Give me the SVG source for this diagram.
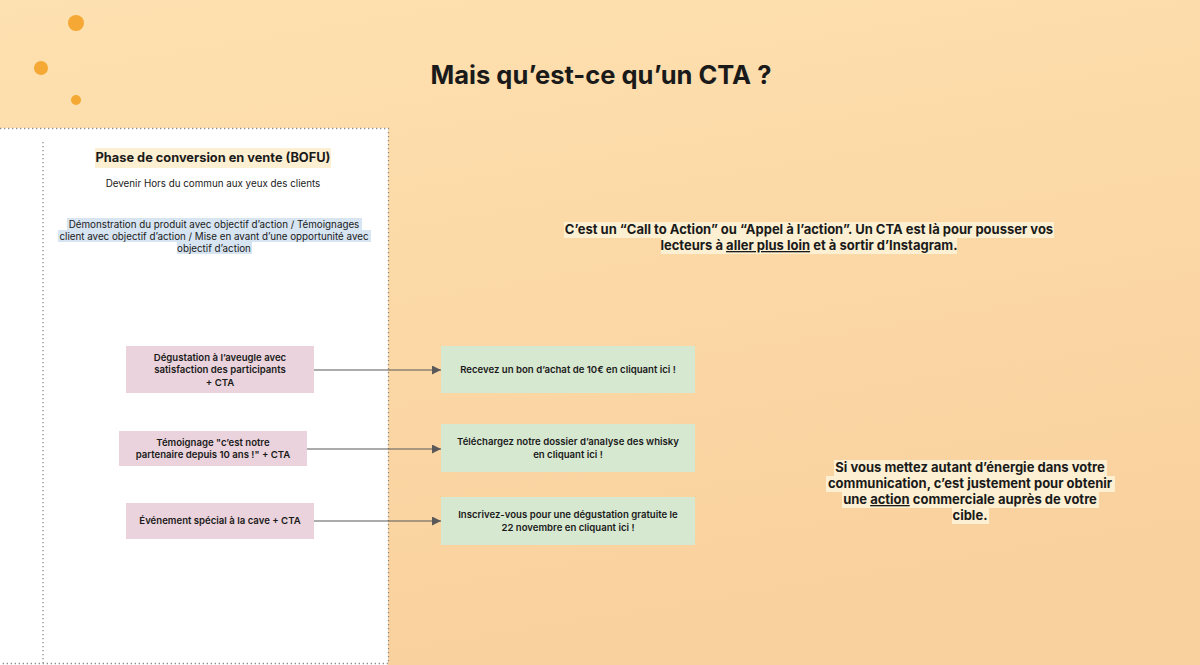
<svg xmlns="http://www.w3.org/2000/svg" width="1200" height="665" viewBox="0 0 1200 665">
<defs>
<linearGradient id="bg" x1="0" y1="0" x2="0.3" y2="1">
<stop offset="0" stop-color="#fee1b0"/>
<stop offset="1" stop-color="#f9d19e"/>
</linearGradient>
<marker id="arr" viewBox="0 0 10 10" refX="10" refY="5" markerWidth="12" markerHeight="9" markerUnits="userSpaceOnUse" orient="auto">
<path d="M0,0 L10,5 L0,10 z" fill="#595959"/>
</marker>
<style>
text{font-family:Inter,"Noto Sans","Liberation Sans",sans-serif;fill:#1a1a1a;text-anchor:middle}
.title{font-size:25.5px;font-weight:700}
.h{font-size:12.8px;font-weight:700}
.s{font-size:9.8px}
.b{font-size:9.6px;font-weight:600}
.r{font-size:13px;font-weight:700}
.pink{fill:#ead3dc}
.green{fill:#d7e8d1}
.dot{fill:#f5a833}
.conn{stroke:#595959;stroke-width:1.2;fill:none;marker-end:url(#arr)}
.dash{stroke:#8a8a8a;stroke-width:1.3;stroke-dasharray:1.3 2.7;fill:none}
</style>
</defs>
<rect width="1200" height="665" fill="url(#bg)"/>
<g id="decor">
<circle class="dot" cx="76" cy="23" r="8"/>
<circle class="dot" cx="41" cy="68" r="7"/>
<circle class="dot" cx="76" cy="100" r="5"/>
</g>
<g id="title"><text class="title" x="601" y="84">Mais qu’est-ce qu’un CTA ?</text></g>
<g id="panel">
<rect x="0" y="128" width="388" height="537" fill="#ffffff"/>
<path class="dash" d="M0,128.5 H388.5 V663.5 H0"/>
<path class="dash" d="M43,142 V663"/>
<rect x="95" y="148" width="236" height="20" fill="#fdf0d2"/>
<text class="h" x="213" y="162">Phase de conversion en vente (BOFU)</text>
<text class="s" x="213" y="187">Devenir Hors du commun aux yeux des clients</text>
<rect x="67" y="218" width="295" height="12" fill="#d7e4f1"/>
<rect x="58" y="230" width="313" height="12" fill="#d7e4f1"/>
<rect x="177" y="242" width="75" height="12" fill="#d7e4f1"/>
<text class="s" x="214" y="228">Démonstration du produit avec objectif d’action / Témoignages</text>
<text class="s" x="214" y="240">client avec objectif d’action / Mise en avant d’une opportunité avec</text>
<text class="s" x="214" y="252">objectif d’action</text>
</g>
<g id="src1"><rect class="pink" x="126" y="346" width="188" height="47"/>
<text class="b" x="220" y="361">Dégustation à l’aveugle avec</text>
<text class="b" x="220" y="373">satisfaction des participants</text>
<text class="b" x="220" y="386">+ CTA</text></g>
<g id="src2"><rect class="pink" x="119" y="431" width="188" height="35"/>
<text class="b" x="213" y="446">Témoignage "c’est notre</text>
<text class="b" x="213" y="458">partenaire depuis 10 ans !" + CTA</text></g>
<g id="src3"><rect class="pink" x="126" y="503" width="188" height="36"/>
<text class="b" x="220" y="524">Événement spécial à la cave + CTA</text></g>
<g id="dst1"><rect class="green" x="441" y="346" width="254" height="47"/>
<text class="b" x="568" y="373">Recevez un bon d’achat de 10€ en cliquant ici !</text></g>
<g id="dst2"><rect class="green" x="441" y="424" width="254" height="48"/>
<text class="b" x="568" y="445">Téléchargez notre dossier d’analyse des whisky</text>
<text class="b" x="568" y="458">en cliquant ici !</text></g>
<g id="dst3"><rect class="green" x="441" y="497" width="254" height="48"/>
<text class="b" x="568" y="518">Inscrivez-vous pour une dégustation gratuite le</text>
<text class="b" x="568" y="531">22 novembre en cliquant ici !</text></g>
<g id="connectors">
<path class="conn" d="M314,370 H441"/>
<path class="conn" d="M307,449 H441"/>
<path class="conn" d="M314,521 H441"/>
</g>
<g id="note1">
<rect x="564" y="222" width="490" height="16" fill="#fdf0d2"/>
<rect x="661" y="238" width="296" height="16" fill="#fdf0d2"/>
<text class="r" x="809" y="234">C’est un “Call to Action” ou “Appel à l’action”. Un CTA est là pour pousser vos</text>
<text class="r" x="809" y="250">lecteurs à <tspan text-decoration="underline">aller plus loin</tspan> et à sortir d’Instagram.</text>
</g>
<g id="note2">
<rect x="834" y="460" width="273" height="16" fill="#fdf0d2"/>
<rect x="826" y="476" width="289" height="16" fill="#fdf0d2"/>
<rect x="842" y="492" width="257" height="16" fill="#fdf0d2"/>
<rect x="952" y="508" width="37" height="16" fill="#fdf0d2"/>
<text class="r" x="970" y="472">Si vous mettez autant d’énergie dans votre</text>
<text class="r" x="970" y="488">communication, c’est justement pour obtenir</text>
<text class="r" x="970" y="504">une <tspan text-decoration="underline">action</tspan> commerciale auprès de votre</text>
<text class="r" x="970" y="520">cible.</text>
</g>
</svg>
